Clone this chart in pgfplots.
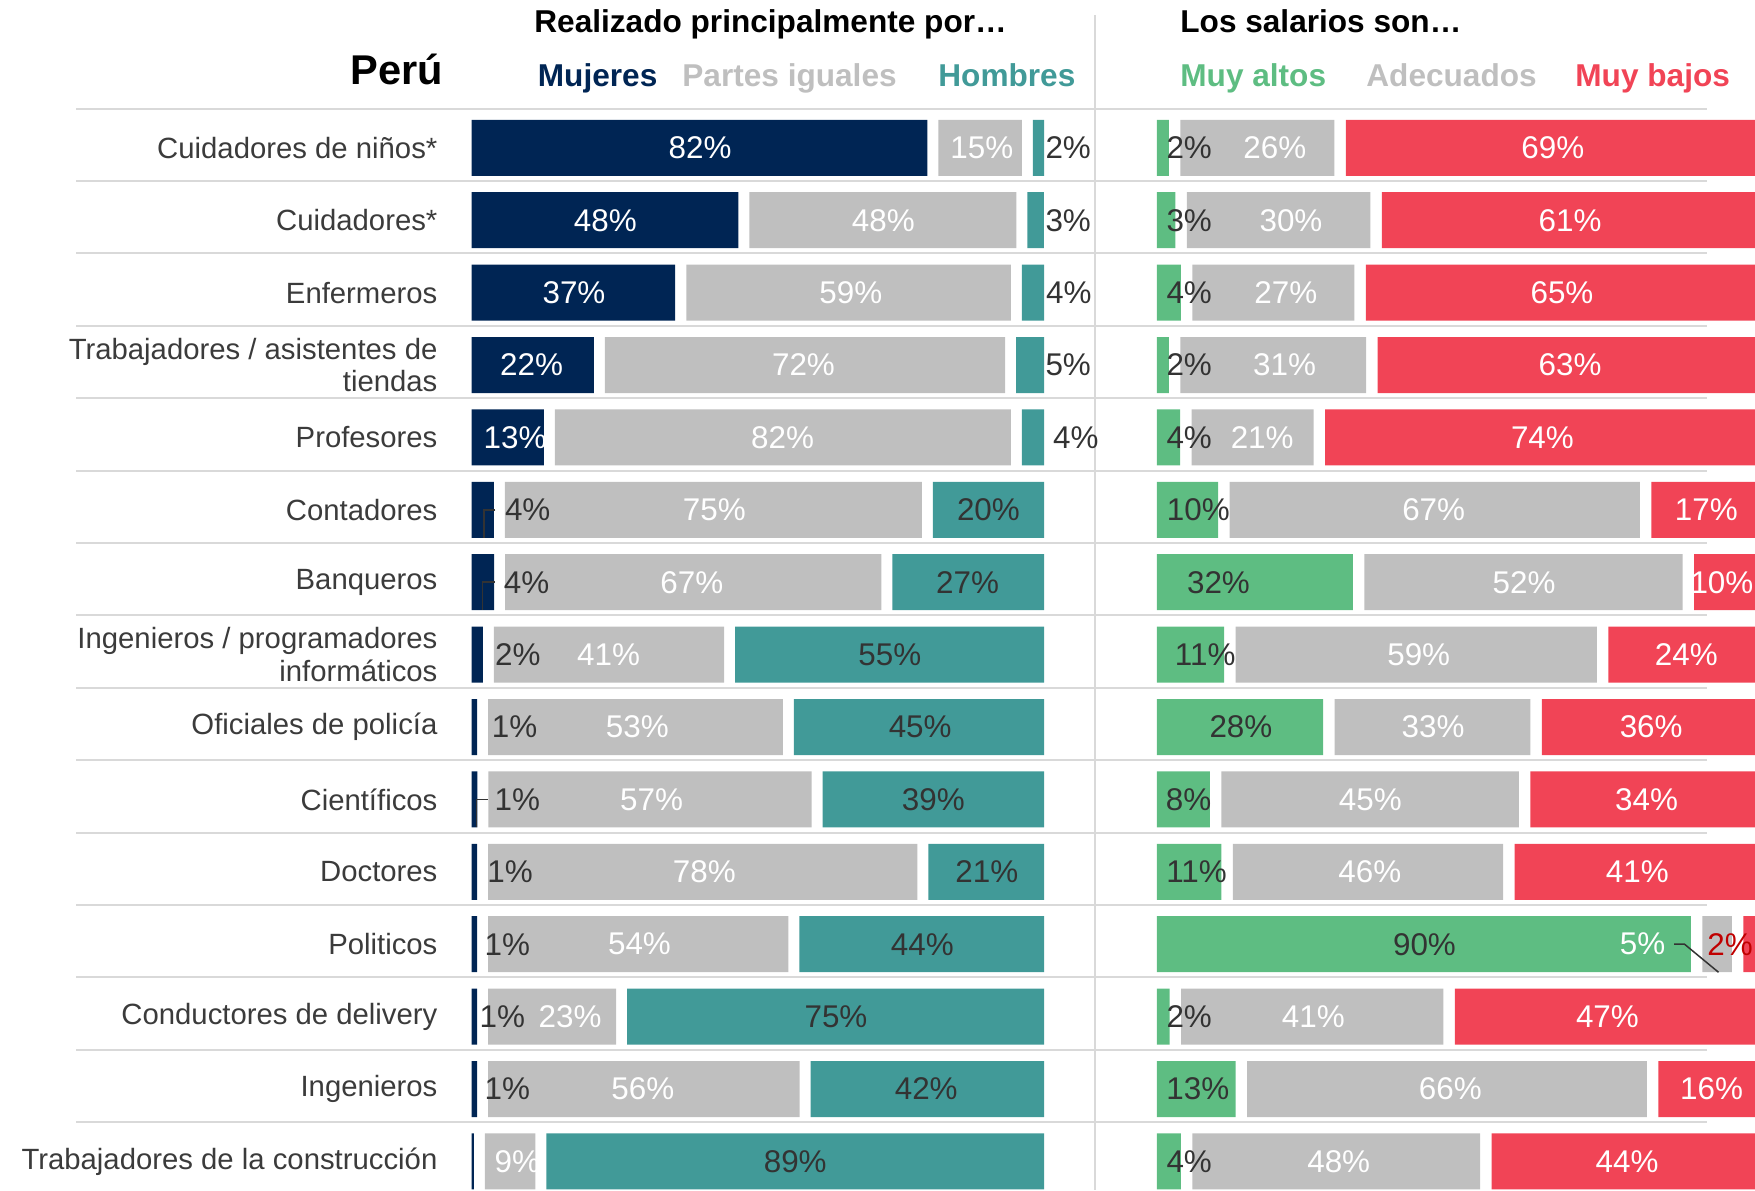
\documentclass[border=0pt]{standalone}
\usepackage{pgfplots}
\usepackage{pgfplotstable}
\pgfplotsset{compat=1.18}
\usepackage{fontspec}
\setmainfont{Liberation Sans}

\definecolor{navy}{HTML}{002554}
\definecolor{tealc}{HTML}{419A98}
\definecolor{greenc}{HTML}{5EBD82}
\definecolor{redc}{HTML}{F14456}
\definecolor{greyc}{HTML}{BFBFBF}
\definecolor{linec}{HTML}{D9D9D9}
\definecolor{darkc}{HTML}{333333}
\definecolor{catc}{HTML}{3B3B3B}
\definecolor{darkred}{HTML}{C00000}

\newcommand\pctfont{\fontsize{15.7}{15.7}\selectfont}
\newcommand\catfont{\fontsize{14.65}{16.2}\selectfont}
\newcommand\headfont{\bfseries\fontsize{15.8}{15.8}\selectfont}

% Realizado principalmente por (bar lengths scaled to the shown answers)
\pgfplotstableread{
row A g B C
1 82.83 2 15.15 2.02
2 48.48 2 48.48 3.03
3 37 2 59 4
4 22.22 2 72.73 5.05
5 13.13 2 82.83 4.04
6 4.04 2 75.76 20.20
7 4.08 2 68.37 27.55
8 2.04 2 41.84 56.12
9 1.01 2 53.54 45.45
10 1.03 2 58.76 40.21
11 1 2 78 21
12 1.01 2 54.55 44.44
13 1.01 2 23.23 75.76
14 1.01 2 56.57 42.42
15 0.4 2 9.2 90.4
}\lefttab

% Los salarios son
\pgfplotstableread{
row A g B C
1 2.06 2 26.80 71.13
2 3.19 2 31.91 64.89
3 4.17 2 28.13 67.71
4 2.08 2 32.29 65.63
5 4.04 2 21.21 74.75
6 10.64 2 71.28 18.09
7 34.04 2 55.32 10.64
8 11.70 2 62.77 25.53
9 28.87 2 34.02 37.11
10 9.20 2 51.72 39.08
11 11.22 2 46.94 41.84
12 92.78 2 5.15 2.06
13 2.22 2 45.56 52.22
14 13.68 2 69.47 16.84
15 4.17 2 50.00 45.83
}\righttab

\pgfplotsset{
  panel/.style={scale only axis, anchor=north west, height=543pt,
    xmin=0, xmax=104, ymin=0.5, ymax=15.5, y dir=reverse,
    axis line style={draw=none}, tick style={draw=none},
    xtick=\empty, ytick=\empty},
  bars/.style={xbar stacked, bar width=28pt},
  lbl/.style={draw=none, nodes near coords, point meta=explicit symbolic,
    nodes near coords align={center},
    every node near coord/.append style={font=\pctfont, inner sep=0pt, text=#1}},
  lblw/.style={draw=none, nodes near coords, point meta=explicit symbolic,
    nodes near coords align={west},
    every node near coord/.append style={font=\pctfont, inner sep=0pt, text=#1}},
  leader/.style={draw=darkc, line width=0.75pt},
}

\begin{document}
\begin{tikzpicture}
\begin{scope}[x=0.5pt,y=-0.5pt]
\foreach \k in {0,...,14}{\draw[linec, line width=1pt] (76,{108.5+72.4*\k}) -- (1707,{108.5+72.4*\k});}
\draw[linec, line width=1pt] (1095,15) -- (1095,1190);
\node[anchor=base west, inner sep=0pt, font=\headfont] at (534,32.5) {Realizado principalmente por…};
\node[anchor=base west, inner sep=0pt, font=\headfont] at (1180,32.5) {Los salarios son…};
\node[anchor=base east, inner sep=0pt, font=\bfseries\fontsize{20.8}{20.8}\selectfont] at (443.5,84.5) {Perú};
\node[anchor=base west, inner sep=0pt, font=\headfont, text=navy] at (537.5,86) {Mujeres};
\node[anchor=base west, inner sep=0pt, font=\headfont, text=greyc] at (682,86) {Partes iguales};
\node[anchor=base west, inner sep=0pt, font=\headfont, text=tealc] at (938,86) {Hombres};
\node[anchor=base west, inner sep=0pt, font=\headfont, text=greenc] at (1180,86) {Muy altos};
\node[anchor=base west, inner sep=0pt, font=\headfont, text=greyc] at (1366,86) {Adecuados};
\node[anchor=base west, inner sep=0pt, font=\headfont, text=redc] at (1575,86) {Muy bajos};
\end{scope}

% ---------- left panel: bars ----------
\begin{axis}[panel, bars, at={(235.8pt,-55.8pt)}, width=286.2pt,
  ytick={1,...,15},
  yticklabels={Cuidadores de niños*, Cuidadores*, Enfermeros,
    {Trabajadores / asistentes de\\tiendas}, Profesores, Contadores, Banqueros,
    {Ingenieros / programadores\\informáticos}, Oficiales de policía, Científicos,
    Doctores, Politicos, Conductores de delivery, Ingenieros,
    Trabajadores de la construcción},
  yticklabel style={font=\catfont, text=catc, anchor=east, align=right,
    inner sep=0pt, xshift=-16.9pt}]
\addplot[fill=navy, draw=none] table[x=A, y=row] {\lefttab};
\addplot[fill=none, draw=none] table[x=g, y=row] {\lefttab};
\addplot[fill=greyc, draw=none] table[x=B, y=row] {\lefttab};
\addplot[fill=none, draw=none] table[x=g, y=row] {\lefttab};
\addplot[fill=tealc, draw=none] table[x=C, y=row] {\lefttab};
\end{axis}

% ---------- left panel: labels ----------
\begin{axis}[panel, at={(235.8pt,-55.8pt)}, width=286.2pt, clip=false]
\addplot[lbl=white] coordinates {
 (41.5,1) [82\%] (92.7,1) [15\%] (24.3,2) [48\%] (74.8,2) [48\%]
 (18.6,3) [37\%] (68.9,3) [59\%] (10.9,4) [22\%] (60.3,4) [72\%]
 (7.9,5) [13\%] (56.5,5) [82\%] (44.1,6) [75\%] (40.0,7) [67\%]
 (24.9,8) [41\%] (30.1,9) [53\%] (32.7,10) [57\%] (42.3,11) [78\%]
 (30.5,12) [54\%] (17.9,13) [23\%] (31.1,14) [56\%] (8.3,15) [9\%]};
\addplot[lbl=darkc] coordinates {
 (93.9,6) [20\%] (90.1,7) [27\%] (76.0,8) [55\%] (81.5,9) [45\%]
 (83.9,10) [39\%] (93.6,11) [21\%] (81.9,12) [44\%] (66.2,13) [75\%]
 (82.6,14) [42\%] (58.8,15) [89\%]};
\addplot[lblw=darkc] coordinates {
 (104.2,1) [2\%] (104.2,2) [3\%] (104.3,3) [4\%] (104.2,4) [5\%]
 (105.6,5) [4\%] (6.0,6) [4\%] (5.8,7) [4\%] (4.2,8) [2\%]
 (3.6,9) [1\%] (4.1,10) [1\%] (2.8,11) [1\%] (2.3,12) [1\%]
 (1.4,13) [1\%] (2.3,14) [1\%]};
\addplot[leader] coordinates {(4.3,6) (2.25,6) (2.25,6.387)};
\addplot[leader] coordinates {(4.16,7) (2.0,7) (2.0,7.387)};
\addplot[leader] coordinates {(2.93,10) (0.87,10) (0.87,10.387)};
\end{axis}

% ---------- right panel: bars ----------
\begin{axis}[panel, bars, at={(578.45pt,-55.8pt)}, width=299.2pt]
\addplot[fill=greenc, draw=none] table[x=A, y=row] {\righttab};
\addplot[fill=none, draw=none] table[x=g, y=row] {\righttab};
\addplot[fill=greyc, draw=none] table[x=B, y=row] {\righttab};
\addplot[fill=none, draw=none] table[x=g, y=row] {\righttab};
\addplot[fill=redc, draw=none] table[x=C, y=row] {\righttab};
\end{axis}

% ---------- right panel: labels ----------
\begin{axis}[panel, at={(578.45pt,-55.8pt)}, width=299.2pt, clip=false]
\addplot[lbl=white] coordinates {
 (20.5,1) [26\%] (68.8,1) [69\%] (23.3,2) [30\%] (71.8,2) [61\%]
 (22.4,3) [27\%] (70.4,3) [65\%] (22.2,4) [31\%] (71.8,4) [63\%]
 (18.3,5) [21\%] (67.0,5) [74\%] (48.1,6) [67\%] (95.5,6) [17\%]
 (63.8,7) [52\%] (98.2,7) [10\%] (45.5,8) [59\%] (92.0,8) [24\%]
 (48.0,9) [33\%] (85.9,9) [36\%] (37.1,10) [45\%] (85.1,10) [34\%]
 (37.0,11) [46\%] (83.5,11) [41\%] (84.4,12) [5\%] (27.2,13) [41\%]
 (78.3,13) [47\%] (51.0,14) [66\%] (96.4,14) [16\%] (31.6,15) [48\%]
 (81.7,15) [44\%]};
\addplot[lbl=darkc] coordinates {
 (7.2,6) [10\%] (10.7,7) [32\%] (8.4,8) [11\%] (14.6,9) [28\%]
 (5.5,10) [8\%] (6.9,11) [11\%] (46.5,12) [90\%] (7.1,14) [13\%]};
\addplot[lblw=darkc] coordinates {
 (1.6,1) [2\%] (1.6,2) [3\%] (1.6,3) [4\%] (1.6,4) [2\%]
 (1.6,5) [4\%] (1.6,13) [2\%] (1.6,15) [4\%]};
\addplot[lbl=darkred] coordinates {(99.6,12) [2\%]};
\addplot[leader] coordinates {(89.9,12) (91.7,12) (97.6,12.387)};
\end{axis}

\pgfresetboundingbox
\path[use as bounding box] (0pt,0pt) rectangle (877.5pt,-595pt);
\end{tikzpicture}
\end{document}
